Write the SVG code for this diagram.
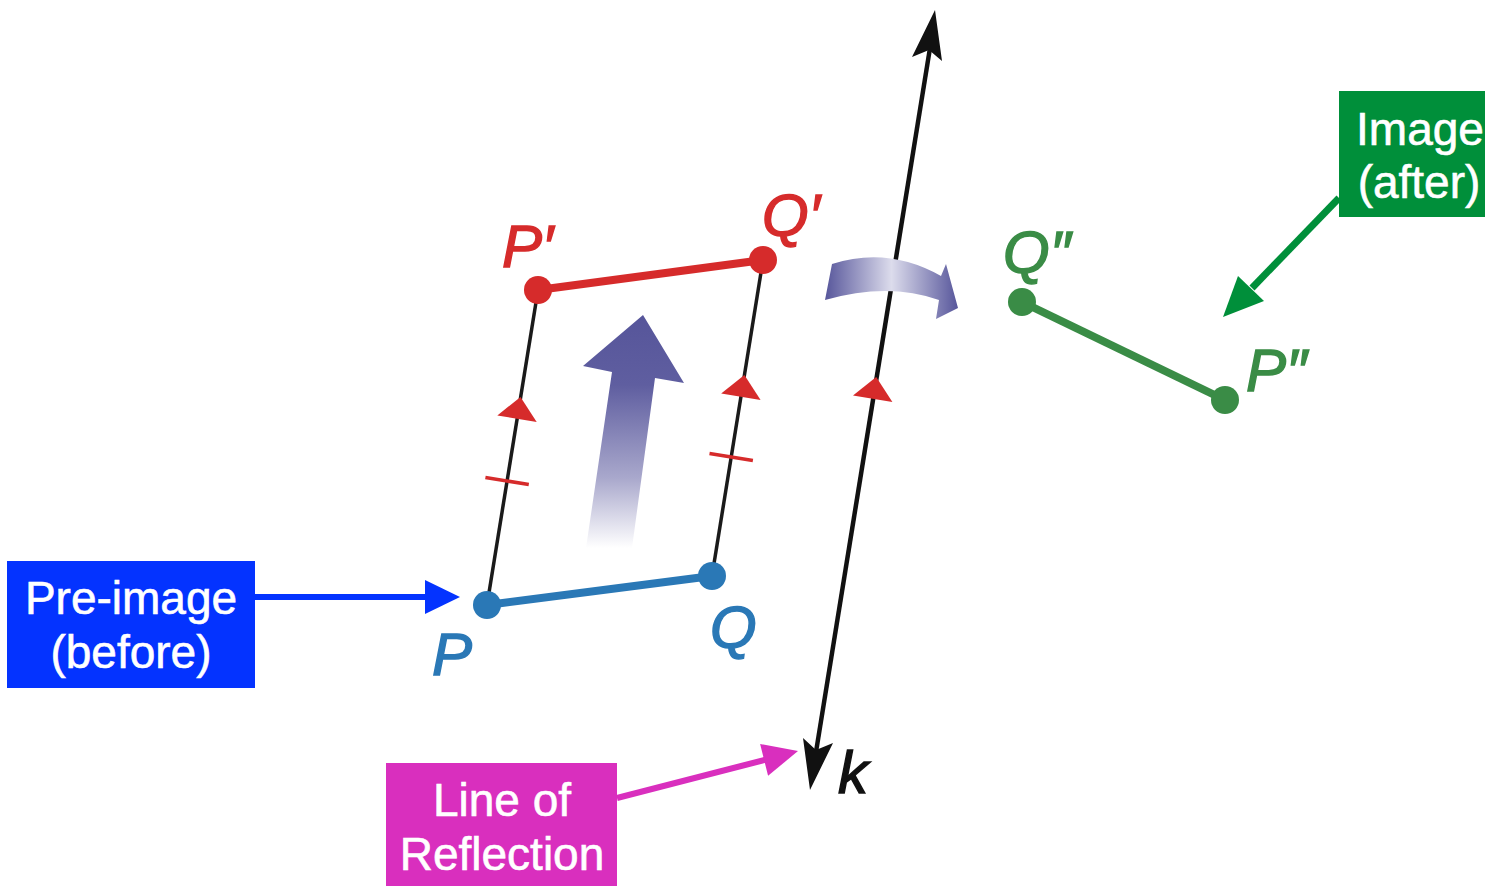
<svg xmlns="http://www.w3.org/2000/svg" width="1485" height="886" viewBox="0 0 1485 886">
<defs>
<style>
.lbl{font-family:"Liberation Sans",Arial,sans-serif;font-style:italic;font-size:60px;stroke-width:1.4}
.box{font-family:"Liberation Sans",Arial,sans-serif;font-size:46px;fill:#ffffff;text-anchor:middle;stroke:#ffffff;stroke-width:0.6}
.thin{stroke:#1a1a1a;stroke-width:3.5;fill:none}
.mark{fill:#d62b2b}
.tick{stroke:#d62b2b;stroke-width:3.5}
</style>
<linearGradient id="upGrad" x1="0" y1="315" x2="0" y2="548" gradientUnits="userSpaceOnUse">
<stop offset="0" stop-color="#56559a"/>
<stop offset="0.3" stop-color="#5f5ea0"/>
<stop offset="0.7" stop-color="#a9a8cc"/>
<stop offset="1" stop-color="#ffffff"/>
</linearGradient>
<linearGradient id="curveGrad" x1="825" y1="0" x2="958" y2="0" gradientUnits="userSpaceOnUse">
<stop offset="0" stop-color="#57569b"/>
<stop offset="0.5" stop-color="#dcdcec"/>
<stop offset="1" stop-color="#57569b"/>
</linearGradient>
</defs>
<rect width="1485" height="886" fill="#ffffff"/>

<g id="line-k">
<line x1="816" y1="752" x2="930" y2="48" stroke="#111" stroke-width="4.5"/>
<path d="M935,10 L942,61 L929,50 L912,57 Z" fill="#111"/>
<path d="M810,790 L803,738 L816,750 L833,743 Z" fill="#111"/>
<path d="M853,395.5 L876.2,377 L892.4,401.9 Z" class="mark"/>
<text class="lbl" x="838" y="793" fill="#111" stroke="#111">k</text>
</g>

<g id="curved-arrow">
<path d="M825,300 L832,264 Q888,246 941,276 L946,264 L958,308 L936,319 L939,300 Q888,282 825,300 Z" fill="url(#curveGrad)"/>
</g>

<g id="translation-arrow">
<path d="M643,315 L684,383 L655,378 L632,548 L586,548 L612,372 L583,366 Z" fill="url(#upGrad)"/>
</g>

<g id="connectors">
<line class="thin" x1="487" y1="605" x2="538" y2="290"/>
<line class="thin" x1="712" y1="576" x2="763" y2="260"/>
<path class="mark" d="M497.3,415.5 L520.5,397 L536.7,421.9 Z"/>
<path class="mark" d="M721.2,393.5 L744.4,375 L760.6,399.9 Z"/>
<line class="tick" x1="485.4" y1="477.5" x2="528.8" y2="484.5"/>
<line class="tick" x1="709.5" y1="453.5" x2="752.9" y2="460.5"/>
<line x1="255" y1="597" x2="428" y2="597" stroke="#0433ff" stroke-width="6"/>
<path d="M425,580 L460,597 L425,614 Z" fill="#0433ff"/>
<line x1="617" y1="798" x2="768" y2="759" stroke="#d92fbe" stroke-width="6"/>
<path d="M798,751 L768.1,775.8 L760.1,744 Z" fill="#d92fbe"/>
<line x1="1339" y1="198" x2="1252" y2="288" stroke="#008f3a" stroke-width="7"/>
<path d="M1223,317 L1264,301 L1238,276 Z" fill="#008f3a"/>
</g>

<g id="segment-PQ">
<line x1="487" y1="605" x2="712" y2="576" stroke="#2a78b6" stroke-width="8"/>
<circle cx="487" cy="605" r="14" fill="#2a78b6"/>
<circle cx="712" cy="576" r="14" fill="#2a78b6"/>
<text class="lbl" x="432" y="675" fill="#2a78b6" stroke="#2a78b6">P</text>
<text class="lbl" x="710" y="648" fill="#2a78b6" stroke="#2a78b6">Q</text>
</g>

<g id="segment-P1Q1">
<line x1="538" y1="290" x2="763" y2="260" stroke="#d62b2b" stroke-width="8"/>
<circle cx="538" cy="290" r="14" fill="#d62b2b"/>
<circle cx="763" cy="260" r="14" fill="#d62b2b"/>
<text class="lbl" x="502" y="267" fill="#d62b2b" stroke="#d62b2b">P′</text>
<text class="lbl" x="762" y="236" fill="#d62b2b" stroke="#d62b2b">Q′</text>
</g>

<g id="segment-P2Q2">
<line x1="1022" y1="302" x2="1225" y2="400" stroke="#3a8c46" stroke-width="8"/>
<circle cx="1022" cy="302" r="14" fill="#3a8c46"/>
<circle cx="1225" cy="400" r="14" fill="#3a8c46"/>
<text class="lbl" x="1003" y="273" fill="#3a8c46" stroke="#3a8c46">Q″</text>
<text class="lbl" x="1246" y="391" fill="#3a8c46" stroke="#3a8c46">P″</text>
</g>

<g id="label-preimage">
<rect x="7" y="561" width="248" height="127" fill="#0433ff"/>
<text class="box" x="131" y="614">Pre-image</text>
<text class="box" x="131" y="668">(before)</text>
</g>

<g id="label-image">
<rect x="1339" y="91" width="146" height="126" fill="#008f3a"/>
<text class="box" x="1420" y="145">Image</text>
<text class="box" x="1419" y="198">(after)</text>
</g>

<g id="label-line-of-reflection">
<rect x="386" y="763" width="231" height="123" fill="#d92fbe"/>
<text class="box" x="502" y="816">Line of</text>
<text class="box" x="502" y="870">Reflection</text>
</g>
</svg>
